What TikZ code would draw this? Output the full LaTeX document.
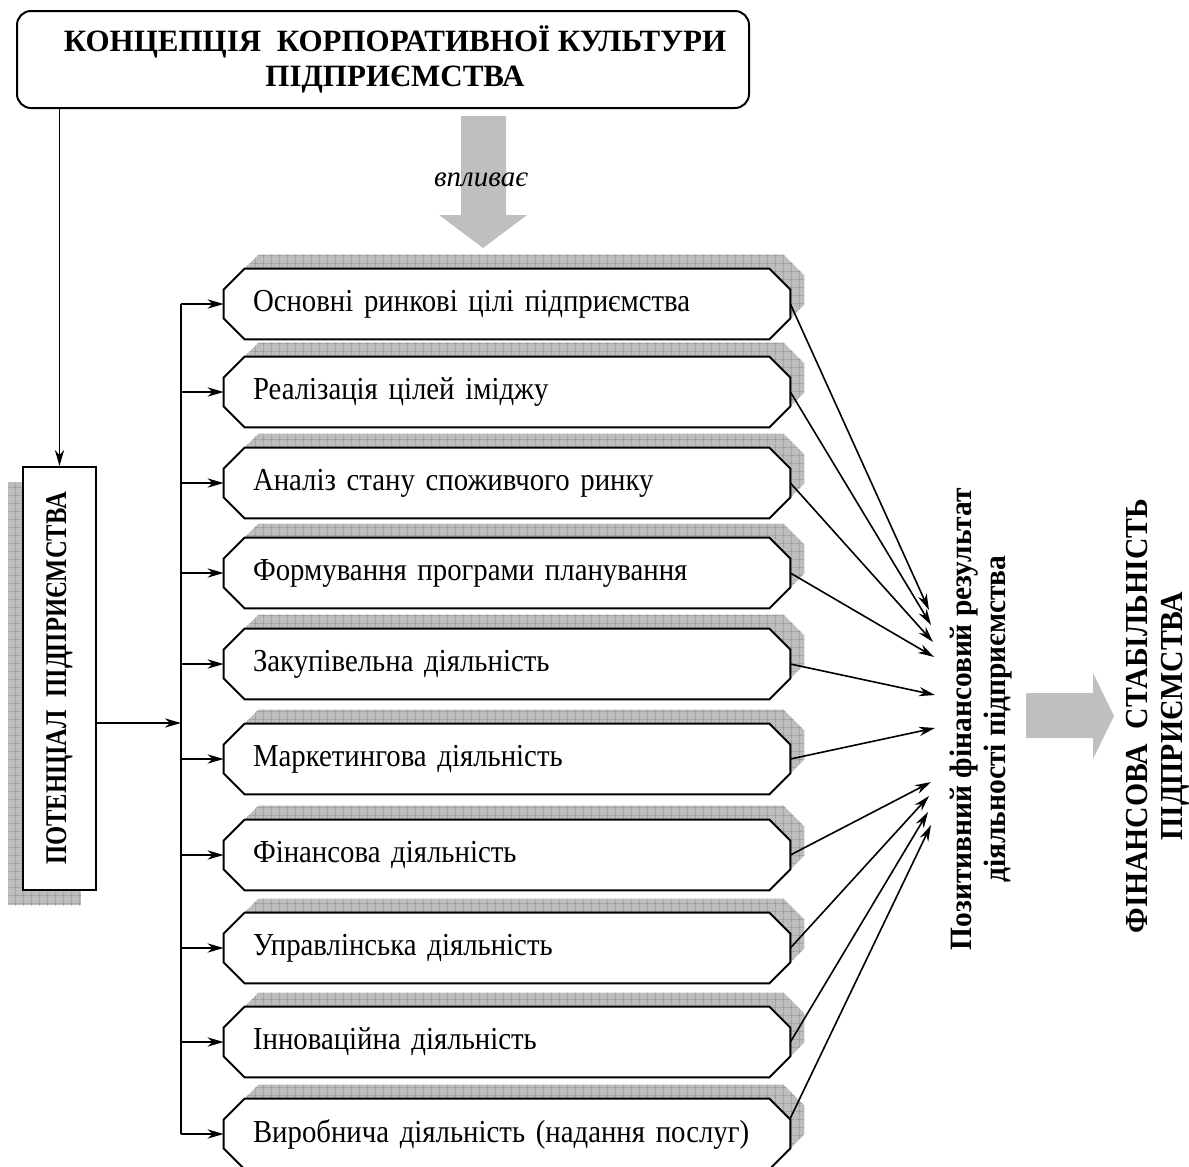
\documentclass[tikz,border=0pt]{standalone}
\usepackage{fontspec}
\setmainfont{Liberation Serif}
\newfontfamily\potfont[FakeStretch=0.82]{Liberation Serif}
\newfontfamily\stabfont[FakeStretch=0.93]{Liberation Serif}
\newfontfamily\boxfont[FakeStretch=0.9]{Liberation Serif}
\newfontfamily\resfont[FakeStretch=0.95]{Liberation Serif}
\usetikzlibrary{arrows.meta,backgrounds,patterns.meta,calc}
\tikzset{
  conn/.style={line width=0.8pt,-{Stealth[length=8pt,width=4.6pt,inset=2.5pt]}},
  frame/.style={draw=black,line width=1pt},
  actbox/.style={minimum width=283pt,minimum height=35pt,text width=254pt,
    inner xsep=14.5pt,inner ysep=0pt,align=left,
    font=\fontsize{16}{18}\boxfont},
  shadowfill/.style={preaction={fill=black!26},
    pattern={Hatch[distance=4pt,angle=0,line width=0.35pt]},pattern color=black!42},
  blockarrow/.style={fill=black!25}
}
\newcommand\octpath[3]{($(#1.north west)+(21+#2,#3)$) -- ($(#1.north east)+(-21+#2,#3)$) -- ($(#1.north east)+(#2,21+#3)$) -- ($(#1.south east)+(#2,-21+#3)$) -- ($(#1.south east)+(-21+#2,#3)$) -- ($(#1.south west)+(21+#2,#3)$) -- ($(#1.south west)+(#2,-21+#3)$) -- ($(#1.north west)+(#2,21+#3)$) -- cycle}
\begin{document}
\begin{tikzpicture}[x=0.5pt,y=-0.5pt]
\useasboundingbox (0,0) rectangle (1189,1167);
% title
\node[frame,rounded corners=7pt,minimum width=366pt,minimum height=48.5pt,align=center,
  font=\fontsize{15.5}{17.5}\selectfont\bfseries] (title) at (383,59.5)
  {\hspace*{12pt}КОНЦЕПЦІЯ \ КОРПОРАТИВНОЇ КУЛЬТУРИ\\\hspace*{12pt}ПІДПРИЄМСТВА};
% influence arrow
\fill[blockarrow] (461,116) -- (506,116) -- (506,215) -- (527,215) -- (483,248) -- (439,215) -- (461,215) -- cycle;
\node[font=\fontsize{14.5}{16}\selectfont\itshape] (infl) at (481,180) {впливає};
% potential box
\path[shadowfill] (8,482) rectangle (81,905);
\node[frame,fill=white,rotate=90,minimum width=211.5pt,minimum height=36.5pt,inner sep=0pt,
  font=\fontsize{15}{17}\potfont\bfseries] (pot) at (59.5,678.5) {ПОТЕНЦІАЛ \ ПІДПРИЄМСТВА};
% activity boxes
\node[actbox] (b1) at (507,304) {Основні ринкові цілі підприємства};
\node[actbox] (b2) at (507,392) {Реалізація цілей іміджу};
\node[actbox] (b3) at (507,483) {Аналіз стану споживчого ринку};
\node[actbox] (b4) at (507,573) {Формування програми планування};
\node[actbox] (b5) at (507,664) {Закупівельна діяльність};
\node[actbox] (b6) at (507,759) {Маркетингова діяльність};
\node[actbox] (b7) at (507,855) {Фінансова діяльність};
\node[actbox] (b8) at (507,948) {Управлінська діяльність};
\node[actbox] (b9) at (507,1042) {Інноваційна діяльність};
\node[actbox] (b10) at (507,1134) {Виробнича діяльність (надання послуг)};
\begin{scope}[on background layer]
\foreach \i in {1,...,10}{
  \path[shadowfill] \octpath{b\i}{14}{-14};
  \path[frame,fill=white] \octpath{b\i}{0}{0};
}
\end{scope}
% result texts
\node[rotate=90,align=center,font=\fontsize{15.5}{17}\resfont\bfseries] (res) at (981,719)
  {Позитивний фінансовий результат\\діяльності підприємства};
\fill[blockarrow] (1026,693) -- (1093,693) -- (1093,673) -- (1114,716) -- (1093,759) -- (1093,738) -- (1026,738) -- cycle;
\node[rotate=90,align=center,font=\fontsize{16}{17.5}\stabfont\bfseries] (stab) at (1158,716)
  {ФІНАНСОВА \ СТАБІЛЬНІСТЬ\\ПІДПРИЄМСТВА};
% connectors
\draw[conn] (pot.east |- title.south) -- (pot.east);
\coordinate (bus) at (181,723);
\draw[conn] (pot.south |- bus) -- (bus);
\draw[line width=0.8pt] (bus |- b1.west) -- (bus |- b10.west);
\foreach \i in {1,...,10}{
  \draw[conn] (bus |- b\i.west) -- (b\i.west);
}
\coordinate (t1) at (929,610);
\coordinate (t2) at (931,625);
\coordinate (t3) at (933,642);
\coordinate (t4) at (934,657);
\coordinate (t5) at (935,695);
\coordinate (t6) at (935,728);
\coordinate (t7) at (931,782);
\coordinate (t8) at (929,796);
\coordinate (t9) at (928,812);
\coordinate (t10) at (931,825);
\foreach \i in {1,...,9}{
  \draw[conn] (b\i.east) -- (t\i);
}
\draw[conn] ([yshift=8pt]b10.east) -- (t10);
\end{tikzpicture}
\end{document}
